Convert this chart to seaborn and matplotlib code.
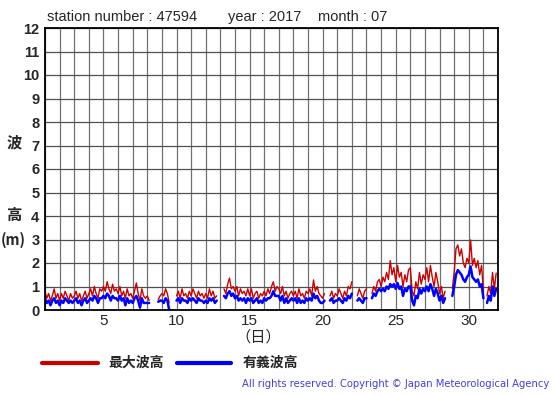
import numpy as np
import pandas as pd
import matplotlib
matplotlib.use("Agg")
import matplotlib.pyplot as plt
import seaborn as sns

nan = np.nan
# 3-hourly readings, day 1 00h .. day 31 21h
max_wave = [
    0.8, 0.5, 0.7, 0.4, 0.6, 0.9, 0.5, 0.7,
    0.4, 0.7, 0.5, 0.8, 0.6, 0.4, 0.7, 0.5,
    0.6, 0.8, 0.5, 0.7, 0.4, 0.6, 0.8, 0.5,
    0.7, 0.9, 0.6, 1.0, 0.7, 0.5, 0.9, 0.8,
    1.0, 0.8, 1.2, 0.9, 0.7, 1.1, 0.8, 0.9,
    0.7, 1.0, 0.6, 0.8, 0.5, 0.9, 0.6, 0.7,
    0.5, 0.8, 1.15, 0.7, 0.4, 0.9, 0.6, 0.5,
    0.6, 0.4, nan, nan, nan, nan, 0.45, 0.6,
    0.7, 0.6, 0.9, 0.7, 0.3, nan, nan, nan,
    0.6, 0.8, 0.5, 0.9, 0.6, 0.7, 0.5, 0.8,
    0.6, 0.9, 0.7, 0.5, 0.8, 0.6, 0.7, 0.5,
    0.7, 0.5, 0.9, 0.6, 0.8, 0.5, 0.6, nan,
    nan, nan, 0.9, 0.7, 1.1, 1.36, 0.9, 1.0,
    0.8, 1.0, 0.6, 0.9, 0.7, 0.8, 0.6, 0.9,
    0.6, 0.9, 0.5, 0.7, 0.8, 0.5, 0.7, 0.6,
    0.8, 0.6, 0.9, 0.7, 1.0, 1.2, 0.8, 1.0,
    0.9, 0.7, 1.0, 0.6, 0.8, 0.5, 0.7, 0.8,
    0.6, 0.8, 0.5, 0.9, 0.6, 0.7, 0.5, 0.8,
    0.7, 0.9, 0.6, 1.28, 0.8, 1.0, 0.7, 0.6,
    0.5, 0.7, nan, nan, 0.6, 0.8, 0.5, 0.7,
    0.6, 0.9, 0.7, 0.5, 0.8, 0.6, 1.0, 0.9,
    1.2, nan, nan, 0.6, 0.9, 0.7, 0.5, 0.8,
    0.9, nan, nan, 0.7, 1.0, 0.8, 1.2, 1.3,
    1.0, 1.4, 1.2, 1.6, 1.3, 2.1, 1.5, 1.8,
    1.2, 1.9, 1.4, 1.6, 1.0, 1.5, 1.2, 1.7,
    1.8, 0.8, 0.6, 1.2, 0.9, 1.6, 1.1, 1.5,
    1.3, 1.8, 1.2, 1.9, 1.4, 1.0, 1.6, 1.2,
    0.7, 1.0, 0.5, 0.8, nan, nan, nan, 0.9,
    1.6, 2.6, 2.77, 2.3, 2.6, 2.0, 1.8, 2.2,
    2.0, 2.98, 1.9, 2.2, 1.8, 2.1, 1.5, 1.9,
    0.8, nan, 0.6, 1.0, 0.7, 1.6, 0.9, 1.57,
]
sig_wave = [
    0.5, 0.3, 0.4, 0.2, 0.4, 0.5, 0.3, 0.4,
    0.2, 0.4, 0.3, 0.5, 0.4, 0.3, 0.4, 0.3,
    0.4, 0.5, 0.3, 0.4, 0.2, 0.4, 0.5, 0.3,
    0.4, 0.5, 0.4, 0.6, 0.5, 0.3, 0.5, 0.5,
    0.6, 0.5, 0.7, 0.6, 0.4, 0.6, 0.5, 0.5,
    0.4, 0.6, 0.4, 0.5, 0.2, 0.5, 0.3, 0.4,
    0.3, 0.5, 0.6, 0.4, 0.1, 0.5, 0.3, 0.3,
    0.3, 0.3, nan, nan, nan, nan, 0.35, 0.4,
    0.4, 0.3, 0.5, 0.4, 0.0, nan, nan, nan,
    0.4, 0.5, 0.3, 0.5, 0.4, 0.4, 0.3, 0.5,
    0.4, 0.5, 0.4, 0.3, 0.5, 0.4, 0.4, 0.3,
    0.4, 0.3, 0.5, 0.4, 0.5, 0.3, 0.4, nan,
    nan, nan, 0.6, 0.5, 0.7, 0.8, 0.6, 0.7,
    0.5, 0.6, 0.4, 0.5, 0.4, 0.5, 0.3, 0.5,
    0.4, 0.5, 0.3, 0.4, 0.5, 0.3, 0.4, 0.3,
    0.5, 0.4, 0.5, 0.5, 0.6, 0.8, 0.6, 0.6,
    0.6, 0.4, 0.6, 0.3, 0.5, 0.3, 0.4, 0.5,
    0.4, 0.5, 0.3, 0.5, 0.3, 0.4, 0.3, 0.5,
    0.4, 0.5, 0.4, 0.7, 0.5, 0.6, 0.4, 0.3,
    0.3, 0.4, nan, nan, 0.4, 0.5, 0.3, 0.4,
    0.4, 0.5, 0.4, 0.3, 0.5, 0.4, 0.6, 0.5,
    0.7, nan, nan, 0.4, 0.5, 0.4, 0.3, 0.5,
    0.5, nan, nan, 0.5, 0.7, 0.6, 0.8, 0.9,
    0.8, 0.9, 0.8, 1.0, 0.9, 1.1, 1.0, 1.1,
    0.9, 1.15, 0.9, 1.0, 0.6, 0.9, 0.8, 1.0,
    1.0, 0.4, 0.2, 0.6, 0.5, 0.9, 0.7, 0.9,
    0.8, 1.0, 0.8, 1.1, 0.9, 0.6, 0.9, 0.7,
    0.4, 0.6, 0.3, 0.5, nan, nan, nan, 0.6,
    1.0, 1.5, 1.7, 1.6, 1.5, 1.3, 1.2, 1.4,
    1.5, 1.85, 1.4, 1.3, 1.2, 1.3, 1.0, 1.1,
    0.5, nan, 0.3, 0.6, 0.4, 1.0, 0.6, 0.9,
]
x_ticks = [5, 10, 15, 20, 25, 30]
y_ticks = list(range(0, 13))
series_names = ["最大波高", "有義波高"]
series_colors = ["#cc0000", "#0000ff"]

day = 1 + np.arange(len(max_wave)) / 8.0

def make_frame(vals, name):
    v = np.array(vals, dtype=float)
    seg = np.cumsum(np.isnan(v))
    df = pd.DataFrame({"day": day, "h": v, "seg": seg, "series": name})
    return df.dropna()

df = pd.concat([make_frame(max_wave, series_names[0]),
                make_frame(sig_wave, series_names[1])], ignore_index=True)

sns.set_style("white")
plt.rcParams["font.family"] = ["Liberation Sans", "Noto Sans CJK JP", "DejaVu Sans"]

fig = plt.figure(figsize=(5.55, 3.95), dpi=100)
W, H = 555, 395
ax = fig.add_axes([45 / W, (H - 310) / H, (498 - 45) / W, (310 - 28) / H])

sns.lineplot(data=df[df.series == series_names[0]], x="day", y="h", units="seg",
             estimator=None, color=series_colors[0], lw=1.0, ax=ax, legend=False)
sns.lineplot(data=df[df.series == series_names[1]], x="day", y="h", units="seg",
             estimator=None, color=series_colors[1], lw=1.8, ax=ax, legend=False)

ax.set_xlim(1, 32)
ax.set_ylim(0, 12)
ax.set_xticks(np.arange(1, 33), minor=True)
ax.set_xticks(x_ticks)
ax.set_yticks(y_ticks)
ax.grid(which="minor", axis="x", color="#707070", lw=0.9)
ax.grid(which="major", axis="x", color="#707070", lw=0.9)
ax.grid(which="major", axis="y", color="#505050", lw=0.9)
ax.set_axisbelow(True)
ax.tick_params(which="both", length=0)
ax.tick_params(axis="y", labelsize=10.5, pad=4)
ax.tick_params(axis="x", labelsize=11, pad=3)
for t in ax.get_yticklabels():
    t.set_fontweight("bold")
ax.set_xlabel("")
ax.set_ylabel("")
for s in ax.spines.values():
    s.set_color("black")
    s.set_linewidth(1.3)

cjk = ["Noto Sans CJK JP", "DejaVu Sans"]
fig.text(47 / W, 1 - 17 / H, "station number : 47594", fontsize=10.5, va="center", ha="left")
fig.text(228 / W, 1 - 17 / H, "year : 2017", fontsize=10.5, va="center", ha="left")
fig.text(318 / W, 1 - 17 / H, "month : 07", fontsize=10.5, va="center", ha="left")
fig.text(14 / W, 1 - 142 / H, "波", fontsize=11, family=cjk, fontweight="bold", va="center", ha="center")
fig.text(14 / W, 1 - 215 / H, "高", fontsize=11, family=cjk, fontweight="bold", va="center", ha="center")
fig.text(13 / W, 1 - 240 / H, "(m)", fontsize=10.5, family=cjk, fontweight="bold", va="center", ha="center")
fig.text(258 / W, 1 - 337 / H, "（日）", fontsize=11, family=cjk, va="center", ha="center")

# legend
fig.add_artist(plt.Line2D([42 / W, 98 / W], [1 - 363 / H] * 2, color=series_colors[0], lw=3))
fig.text(108 / W, 1 - 363 / H, series_names[0], fontsize=10, family=cjk, fontweight="bold", va="center", ha="left")
fig.add_artist(plt.Line2D([177 / W, 231 / W], [1 - 363 / H] * 2, color=series_colors[1], lw=3))
fig.text(243 / W, 1 - 363 / H, series_names[1], fontsize=10, family=cjk, fontweight="bold", va="center", ha="left")
fig.text(549 / W, 1 - 384 / H, "All rights reserved. Copyright © Japan Meteorological Agency",
         fontsize=7.2, color="#4040e0", family=["DejaVu Sans"], va="center", ha="right")

fig.savefig("out.png", dpi=100)
